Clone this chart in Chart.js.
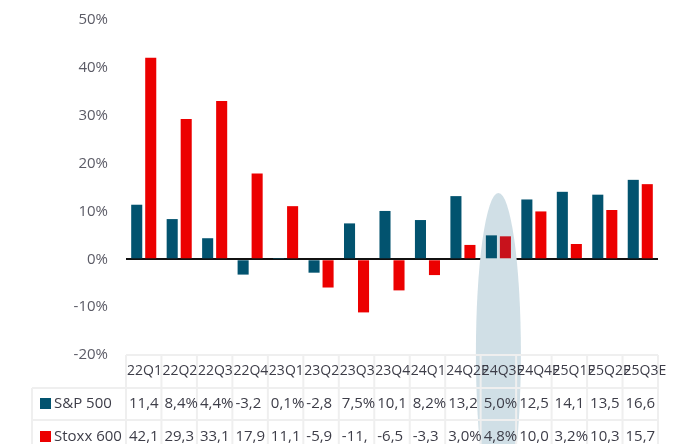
<!DOCTYPE html>
<html>
<head>
<meta charset="utf-8">
<script src="https://cdn.jsdelivr.net/npm/chart.js@4/dist/chart.umd.min.js"></script>
<style>
  html, body { margin: 0; padding: 0; background: #fff; }
  #wrap { width: 680px; height: 444px; }
</style>
</head>
<body>
<div id="wrap"><canvas id="earnings" width="680" height="444"></canvas></div>
<script>
const quarters = ['22Q1', '22Q2', '22Q3', '22Q4', '23Q1', '23Q2', '23Q3', '23Q4', '24Q1', '24Q2E', '24Q3E', '24Q4E', '25Q1E', '25Q2E', '25Q3E']
const sp500 = [11.4, 8.4, 4.4, -3.2, 0.1, -2.8, 7.5, 10.1, 8.2, 13.2, 5.0, 12.5, 14.1, 13.5, 16.6]
const stoxx600 = [42.1, 29.3, 33.1, 17.9, 11.1, -5.9, -11.1, -6.5, -3.3, 3.0, 4.8, 10.0, 3.2, 10.3, 15.7]
const highlighted = '24Q3E'

const blue = '#02536f'
const red = '#ec0000'
const textColor = '#3d3d48'
const lineColor = '#efefef'
const font = "'Open Sans', 'Noto Sans', sans-serif"

// table values are shown as in the source: comma decimals, cut to 4 characters
const cellText = v => (v.toFixed(1).replace('.', ',') + '%').slice(0, 4)

// the grey oval behind the highlighted quarter
const highlightOval = {
    id: 'highlightOval',
    beforeDatasetsDraw(chart) {
        const ctx = chart.ctx
        const x = chart.scales.x.getPixelForValue(quarters.indexOf(highlighted))
        ctx.save()
        ctx.fillStyle = '#d0dfe6'
        ctx.beginPath()
        ctx.ellipse(x, 353, 22.5, 160, 0, 0, Math.PI * 2)
        ctx.fill()
        ctx.restore()
    }
}

// data table under the plot, columns follow the x scale
const dataTable = {
    id: 'dataTable',
    afterDraw(chart) {
        const ctx = chart.ctx
        const area = chart.chartArea
        const xs = chart.scales.x
        const w = (area.right - area.left) / quarters.length
        const top = area.bottom
        const row1 = top + 33
        const row2 = top + 65
        const bottom = chart.height + 10

        ctx.save()
        ctx.strokeStyle = lineColor
        ctx.lineWidth = 2
        ctx.beginPath()
        ctx.moveTo(area.left, top); ctx.lineTo(area.right, top)
        ctx.moveTo(32, row1); ctx.lineTo(area.right, row1)
        ctx.moveTo(32, row2); ctx.lineTo(area.right, row2)
        ctx.moveTo(32, row1); ctx.lineTo(32, bottom)
        for (let k = 0; k <= quarters.length; k++) {
            const x = area.left + k * w
            ctx.moveTo(x, top); ctx.lineTo(x, bottom)
        }
        ctx.stroke()

        ctx.fillStyle = textColor
        ctx.textBaseline = 'middle'
        ctx.textAlign = 'left'

        ctx.font = '14px ' + font
        quarters.forEach((q, i) => {
            const left = xs.getPixelForValue(i) - w / 2
            ctx.fillText(q, left + 1, top + 16)
        })

        ctx.font = '15px ' + font
        const rows = [
            { label: 'S&P 500', color: blue, values: sp500, y: row1 + 16 },
            { label: 'Stoxx 600', color: red, values: stoxx600, y: row2 + 17 }
        ]
        rows.forEach(r => {
            ctx.fillStyle = r.color
            ctx.fillRect(40, r.y - 6, 11, 11)
            ctx.fillStyle = textColor
            ctx.fillText(r.label, 54, r.y)
            r.values.forEach((v, i) => {
                const left = xs.getPixelForValue(i) - w / 2
                ctx.fillText(cellText(v), left + 3, r.y)
            })
        })
        ctx.restore()
    }
}

const context = document.getElementById('earnings').getContext('2d')

new Chart(context, {
    type: 'bar',
    data: {
        labels: quarters,
        datasets: [{
            label: 'S&P 500',
            data: sp500,
            backgroundColor: blue,
            barPercentage: 0.79,
            categoryPercentage: 0.79
        }, {
            label: 'Stoxx 600',
            data: stoxx600,
            backgroundColor: quarters.map(q => q === highlighted ? '#c8121c' : red),
            barPercentage: 0.79,
            categoryPercentage: 0.79
        }]
    },
    options: {
        responsive: false,
        animation: false,
        layout: {
            padding: { top: 20, right: 22, bottom: 89, left: 0 }
        },
        plugins: {
            legend: { display: false },
            tooltip: { enabled: false }
        },
        scales: {
            x: {
                display: false
            },
            y: {
                min: -20,
                max: 50,
                afterFit(scale) {
                    scale.width = 126
                    scale.paddingTop = 0
                    scale.paddingBottom = 0
                },
                border: { display: false },
                grid: {
                    drawTicks: false,
                    lineWidth: 2,
                    color: c => c.tick && c.tick.value === 0 ? '#111' : 'rgba(0,0,0,0)'
                },
                ticks: {
                    stepSize: 10,
                    padding: 18,
                    color: '#5b5b66',
                    font: { family: font, size: 15 },
                    callback: v => v + '%'
                }
            }
        }
    },
    plugins: [highlightOval, dataTable]
});
</script>
</body>
</html>
